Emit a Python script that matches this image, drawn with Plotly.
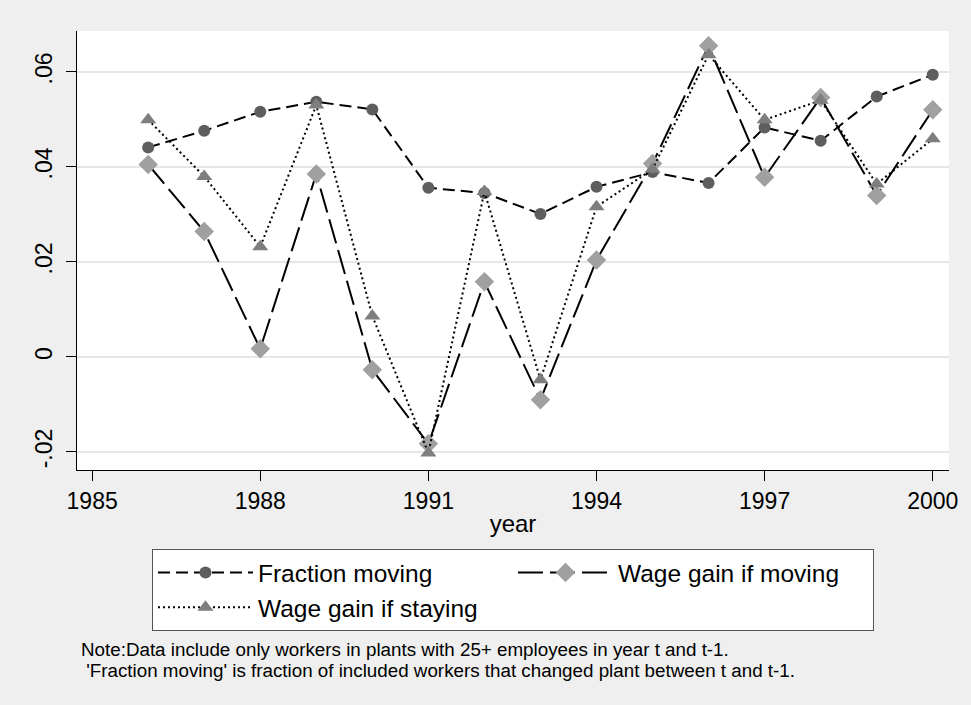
import plotly.graph_objects as go

years = list(range(1986, 2001))

fraction_moving = [0.0441, 0.0476, 0.0516, 0.0537, 0.0521, 0.0356, 0.0345, 0.0301,
                   0.0358, 0.0389, 0.0366, 0.0483, 0.0455, 0.0548, 0.0594]
wage_gain_moving = [0.0405, 0.0264, 0.0017, 0.0385, -0.0027, -0.0183, 0.0158, -0.0090,
                    0.0204, 0.0407, 0.0655, 0.0378, 0.0546, 0.0340, 0.0520]
wage_gain_staying = [0.0499, 0.0380, 0.0232, 0.0530, 0.0086, -0.0202, 0.0348, -0.0048,
                     0.0316, 0.0395, 0.0636, 0.0499, 0.0540, 0.0364, 0.0459]

x_ticks = [1985, 1988, 1991, 1994, 1997, 2000]
y_ticks = [-0.02, 0, 0.02, 0.04, 0.06]
y_tick_labels = ["-.02", "0", ".02", ".04", ".06"]

note_lines = [
    "Note:Data include only workers in plants with 25+ employees in year t and t-1.",
    "\u00a0'Fraction moving' is fraction of included workers that changed plant between t and t-1.",
]

FONT = "Arial, Liberation Sans, sans-serif"
BG = "#efefef"

fig = go.Figure()

fig.add_trace(go.Scatter(
    x=years, y=fraction_moving, name="Fraction moving",
    mode="lines+markers",
    line=dict(color="black", width=2, dash="12px,6px"),
    marker=dict(symbol="circle", size=12, color="#5e5e5e"),
))
fig.add_trace(go.Scatter(
    x=years, y=wage_gain_moving, name="Wage gain if moving",
    mode="lines+markers",
    line=dict(color="black", width=2, dash="25px,7px"),
    marker=dict(symbol="diamond", size=15, color="#a0a0a0"),
))
fig.add_trace(go.Scatter(
    x=years, y=wage_gain_staying, name="Wage gain if staying",
    mode="lines+markers",
    line=dict(color="black", width=2, dash="2px,3px"),
    marker=dict(symbol="triangle-up", size=14, color="#7e7e7e"),
))

# note lines sit below the legend, one annotation each (tight spacing like Stata)
note_y = [-0.41, -0.456]
annotations = []
for txt, yy in zip(note_lines, note_y):
    annotations.append(dict(
        text=txt, xref="paper", yref="paper",
        x=0.002, y=yy, xanchor="left", yanchor="middle",
        align="left", showarrow=False,
        font=dict(size=18.8, family=FONT),
    ))

fig.update_layout(
    width=971, height=705,
    margin=dict(l=77, r=22, t=31, b=235),
    paper_bgcolor=BG,
    plot_bgcolor="white",
    font=dict(family=FONT, color="black", size=23),
    legend=dict(
        orientation="h",
        x=0.086, xanchor="left",
        y=-0.18, yanchor="top",
        bgcolor="white",
        bordercolor="#555555", borderwidth=1,
        font=dict(size=24.5),
        itemwidth=95,
        entrywidth=250,
        traceorder="normal",
    ),
    annotations=annotations,
)

fig.update_xaxes(
    range=[1984.73, 2000.29],
    tickvals=x_ticks,
    ticks="outside", ticklen=10, tickcolor="black", tickwidth=1,
    showline=True, linecolor="black", linewidth=1,
    showgrid=False, zeroline=False,
    tickfont=dict(size=23),
    title=dict(text="year", font=dict(size=24), standoff=2),
)
fig.update_yaxes(
    range=[-0.0238, 0.0686],
    tickvals=y_ticks, ticktext=y_tick_labels,
    tickangle=-90,
    ticks="outside", ticklen=10, tickcolor="black", tickwidth=1,
    showline=True, linecolor="black", linewidth=1,
    showgrid=True, gridcolor="#e6e6e6", gridwidth=2,
    zeroline=False,
    tickfont=dict(size=23),
    ticklabelstandoff=5,
)

fig.write_html("out.html", config={"displayModeBar": False},
               post_script="document.body.style.margin='0px';")
